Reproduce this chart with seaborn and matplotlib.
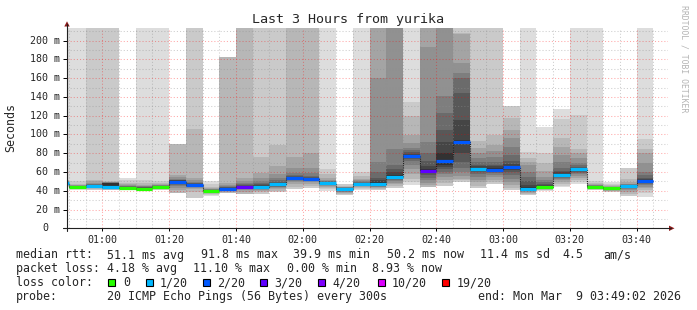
import numpy as np
import pandas as pd
import matplotlib
matplotlib.use("Agg")
import matplotlib.pyplot as plt
import seaborn as sns
from matplotlib.lines import Line2D
from matplotlib.patches import Polygon, Rectangle

# ---------------- data ----------------
times = ["00:45", "00:50", "00:55", "01:00", "01:05", "01:10", "01:15", "01:20", "01:25",
         "01:30", "01:35", "01:40", "01:45", "01:50", "01:55", "02:00", "02:05", "02:10",
         "02:15", "02:20", "02:25", "02:30", "02:35", "02:40", "02:45", "02:50", "02:55",
         "03:00", "03:05", "03:10", "03:15", "03:20", "03:25", "03:30", "03:35", "03:40"]

median_ms = [48.5, 43.6, 45.2, 44.1, 43.2, 42.0, 44.2, 49.4, 46.0, 40.0, 41.8, 43.9,
             43.7, 46.8, 53.1, 52.4, 48.2, 41.9, 47.0, 47.5, 55.0, 76.8, 61.3, 72.0,
             91.8, 63.0, 62.5, 65.1, 42.0, 44.1, 56.9, 62.8, 44.1, 42.6, 44.7, 50.1]

# lost pings (out of 20) per step
loss_pings = [1.0, 0, 1.0, 1.0, 0, 0, 0, 2.0, 1.4, 0, 2.0, 2.2,
              1.0, 1.0, 1.3, 1.5, 0.6, 1.0, 0.5, 1.0, 1.0, 1.2, 2.2, 1.6,
              1.8, 1.0, 1.4, 2.0, 0.4, 0, 0.4, 0.7, 0, 0, 1.0, 1.79]

N = None
# sorted ping rtts: highest ten (p20 .. p11), None = lost, 250 = above the graph
upper_pings = [
    [250, 52, 51, 50.5, 50, 49.8, 49.5, 49.2, 49, 48.8],
    [250, 50, 47.5, 46.5, 46, 45.5, 45, 44.8, 44.5, 44.2],
    [N, 250, 52, 50, 48.5, 47.5, 47, 46.5, 46, 45.8],
    [N, 250, 50.5, 49.8, 49.3, 49, 48.8, 48.5, 48.2, 47.8],
    [54, 51, 48.5, 47, 46, 45.5, 45, 44.5, 44, 43.6],
    [250, 51, 48, 46.5, 45.5, 45, 44.5, 44, 43.3, 42.6],
    [250, 50.5, 48, 47, 46.5, 46, 45.5, 45, 44.8, 44.5],
    [N, N, 90, 57, 54.5, 53, 52, 51.5, 51, 50.5],
    [N, 250, 106, 54, 51, 49.5, 48.5, 48, 47.5, 47],
    [50.5, 47, 43.5, 42.5, 42, 41.5, 41.2, 40.9, 40.6, 40.3],
    [N, N, 182.5, 48.5, 46.5, 45.5, 44.5, 43.5, 43, 42.5],
    [N, N, 250, 54, 50, 48, 47, 46, 45.5, 45],
    [N, 250, 76.5, 58.5, 53.5, 50, 48, 47, 46, 45],
    [N, 250, 89, 66.5, 57.5, 53.3, 51, 49.5, 48.5, 47.5],
    [N, 250, 250, 76.3, 64, 59, 57, 55.5, 54.5, 53.8],
    [N, 250, 250, 80, 64, 58.5, 56, 54.5, 53.5, 53],
    [250, 63.5, 57.5, 53.5, 51.5, 50.5, 50, 49.5, 49, 48.6],
    [N, 47.3, 45.5, 44.5, 44, 43.5, 43, 42.8, 42.5, 42.2],
    [250, 60.5, 56, 53, 51, 50, 49.3, 48.7, 48.2, 47.6],
    [N, 250, 250, 250, 160, 71, 60, 54, 51, 49],
    [N, 250, 250, 250, 250, 84.5, 67.5, 63, 60, 57],
    [250, 134.5, 119.5, 99.5, 90.5, 86, 83, 81, 79.5, 78],
    [N, N, 250, 250, 193.5, 92.5, 80, 72, 66, 63],
    [N, 250, 250, 250, 250, 140.5, 122.5, 105, 92.5, 80],
    [N, 250, 208.5, 207.5, 176, 165.5, 160, 144, 115.5, 94],
    [N, 250, 93, 86, 80, 75, 71, 68, 66, 64.5],
    [N, 250, 99.5, 89, 82.5, 75.5, 71, 68, 66, 64],
    [N, 130.3, 117.5, 104.7, 96, 87, 78, 72, 68.5, 66.8],
    [250, 81, 74.5, 71, 67, 60.5, 55, 50, 46, 43.5],
    [108.3, 80, 69.5, 61, 55, 51.5, 49, 47.5, 46.5, 45.5],
    [127, 116.5, 96, 87, 78, 71, 64, 61, 59.5, 58],
    [250, 120.5, 85, 80, 74.5, 69.5, 67, 65.5, 64.8, 64],
    [250, 50, 48.5, 47.3, 46.5, 46, 45.5, 45.2, 44.9, 44.6],
    [49.7, 47, 45.8, 45, 44.5, 44, 43.7, 43.4, 43.1, 42.8],
    [N, 64, 52.5, 49, 47.5, 46.8, 46.3, 45.8, 45.4, 45],
    [250, 95, 85, 80, 69.5, 60.5, 57, 54, 52.5, 51.5],
]
# lowest ten (p1 .. p10)
lower_pings = [
    [44, 45, 45.5, 46, 46.5, 47, 47.5, 47.8, 48, 48.3],
    [40.5, 41.5, 42, 42.5, 42.8, 43, 43.2, 43.4, 43.5, 43.6],
    [N, 41, 41.8, 42.5, 43, 43.5, 44, 44.4, 44.7, 45],
    [N, 40.5, 41, 41.6, 42.1, 42.5, 42.9, 43.2, 43.5, 43.8],
    [40.5, 41, 41.4, 41.8, 42.1, 42.4, 42.6, 42.8, 43, 43.1],
    [39.8, 40.4, 40.9, 41.2, 41.5, 41.7, 41.8, 41.9, 41.95, 42],
    [40.5, 41, 41.5, 42, 42.5, 43, 43.3, 43.6, 43.9, 44.1],
    [N, N, 38, 41, 43, 45, 46.5, 47.5, 48.5, 49.2],
    [N, 32.7, 39, 41.5, 43, 44, 44.5, 45, 45.5, 45.8],
    [34.5, 35.5, 36.5, 37.5, 38.2, 38.8, 39.2, 39.5, 39.7, 39.9],
    [N, N, 37.5, 38.5, 39.5, 40, 40.5, 41, 41.3, 41.6],
    [N, N, 36.3, 39, 40.5, 41.5, 42.3, 42.8, 43.2, 43.6],
    [N, 36.5, 38.5, 40, 41, 41.8, 42.4, 42.8, 43.2, 43.5],
    [N, 38.3, 40, 41.5, 42.5, 43.5, 44.5, 45.2, 45.8, 46.4],
    [N, 42, 44.5, 47, 49, 50.5, 51.5, 52, 52.5, 52.8],
    [N, 42.5, 45, 47, 49, 50, 50.8, 51.4, 51.8, 52.1],
    [39.5, 41.5, 43, 44.5, 45.5, 46.3, 47, 47.4, 47.7, 48],
    [N, 36, 36.8, 37.5, 38.2, 39, 39.8, 40.5, 41, 41.5],
    [40.8, 42, 43, 44, 44.8, 45.4, 45.9, 46.3, 46.6, 46.8],
    [N, 40.5, 41.5, 42.5, 43.5, 44.5, 45.5, 46.3, 46.8, 47.2],
    [N, 43, 45, 47, 48.5, 50, 51.5, 52.5, 53.5, 54.5],
    [46.5, 49, 53, 58, 63, 68, 71.5, 73.5, 75, 76],
    [N, N, 44, 46, 48.5, 51, 54, 56.5, 58.5, 60],
    [N, 45, 48.5, 51.5, 54.5, 57.5, 60.5, 63, 65, 68],
    [N, 49.5, 51, 53, 56, 60, 64, 71, 80, 90.5],
    [N, 42.5, 45.5, 49, 52, 55, 57.5, 59.5, 61, 62],
    [N, 46.8, 49.5, 52, 54.5, 56.5, 58.5, 60, 61, 61.8],
    [N, 40.8, 43, 46, 49.5, 53, 56.5, 59.5, 62, 64],
    [35.3, 36, 37, 38, 38.8, 39.5, 40.2, 40.8, 41.3, 41.7],
    [39.6, 40.3, 41, 41.6, 42.2, 42.8, 43.2, 43.5, 43.8, 44],
    [43.5, 45.5, 47.5, 49.5, 51, 52.5, 53.5, 54.5, 55.5, 56.2],
    [46.8, 49, 51.5, 54, 56, 57.5, 59, 60.3, 61.3, 62],
    [40.5, 41.2, 41.8, 42.3, 42.8, 43.2, 43.5, 43.7, 43.9, 44],
    [38.3, 39, 39.6, 40.2, 40.8, 41.3, 41.7, 42, 42.2, 42.4],
    [N, 34, 36.5, 39, 41, 42.3, 43.2, 43.8, 44.2, 44.5],
    [33.7, 38, 40.5, 42.5, 44.5, 46, 47, 48, 48.8, 49.5],
]

y_tick_values = [0, 20, 40, 60, 80, 100, 120, 140, 160, 180, 200]
y_tick_labels = ["0", "20 m", "40 m", "60 m", "80 m", "100 m", "120 m", "140 m",
                 "160 m", "180 m", "200 m"]
x_tick_labels = ["01:00", "01:20", "01:40", "02:00", "02:20", "02:40", "03:00", "03:20", "03:40"]

loss_thresholds = [0, 1, 2, 3, 4, 10, 19]
loss_labels = ["0", "1/20", "2/20", "3/20", "4/20", "10/20", "19/20"]
loss_colors = ["#26ff00", "#00b8ff", "#0059ff", "#5e00ff", "#7e00ff", "#dd00ff", "#ff0000"]

# ---------------- setup ----------------
sns.set_style("white")
plt.rcParams["font.family"] = ["DejaVu Sans Mono", "DejaVu Sans"]

W, H = 697, 310
fig = plt.figure(figsize=(W / 100, H / 100), dpi=100)
fig.patch.set_facecolor("white")

AX_L, AX_R, AX_T, AX_B = 67, 668, 28, 228.3
ax = fig.add_axes([AX_L / W, 1 - AX_B / H, (AX_R - AX_L) / W, (AX_B - AX_T) / H])
ax.set_facecolor("white")


def to_min(t):
    h, m = t.split(":")
    return int(h) * 60 + int(m)


starts = np.array([to_min(t) for t in times], dtype=float)
step = 5.0
up = np.array([[np.nan if v is None else v for v in row] for row in upper_pings], dtype=float)
lo = np.array([[np.nan if v is None else v for v in row] for row in lower_pings], dtype=float)
med = np.array(median_ms)

# smoke bands (smokeping style)
for k in range(10):
    g = int(190 / 10 * (10 - (k + 1))) + 50
    col = "#%02x%02x%02x" % (g, g, g)
    top = up[:, k]
    bot = lo[:, k]
    m = ~np.isnan(top) & ~np.isnan(bot)
    ax.bar(starts[m], top[m] - bot[m], bottom=bot[m], width=step, align="edge",
           color=col, linewidth=0, antialiased=False, zorder=1)

# median step connector (dotted)
step_df = pd.DataFrame({"t": np.append(starts, starts[-1] + step),
                        "rtt": np.append(med, med[-1])})
sns.lineplot(data=step_df, x="t", y="rtt", ax=ax, drawstyle="steps-post", estimator=None,
             color="#202020", linewidth=0.8, linestyle=(0, (1, 1)), zorder=3, legend=False)


def loss_color(l):
    if l <= 0:
        return loss_colors[0]
    for th, c in zip(loss_thresholds[1:], loss_colors[1:]):
        if l <= th:
            return c
    return loss_colors[-1]


cols = [loss_color(l) for l in loss_pings]
ax.hlines(med, starts, starts + step, colors=cols, linewidth=2.3, zorder=4)

ax.set_xlim(49.4, 229.4)
ax.set_ylim(0, 213.5)
ax.set_xlabel("")
ax.set_ylabel("")

# grid
xmaj = [to_min(t) for t in x_tick_labels]
ax.set_xticks(xmaj)
ax.set_xticklabels(x_tick_labels, fontsize=7.2)
ax.set_xticks(np.arange(50, 230, 5), minor=True)
ax.set_yticks(y_tick_values)
ax.set_yticklabels([])
ax.set_yticks(np.arange(10, 213, 10), minor=True)
ax.set_axisbelow(False)
ax.grid(which="minor", color="#909090", alpha=0.45, linestyle=(0, (1, 2)), linewidth=0.75)
ax.grid(which="major", color="#ff0000", alpha=0.35, linestyle=(0, (1, 2)), linewidth=0.75)
for s in ax.spines.values():
    s.set_visible(False)
ax.tick_params(axis="x", which="major", length=2, width=0.7, color="black", pad=2.5, direction="out",
               bottom=True)
ax.tick_params(axis="x", which="minor", length=0)
ax.tick_params(axis="y", which="major", length=3, width=0.7, color="black", direction="out", left=True,
               labelleft=False)
ax.tick_params(axis="y", which="minor", length=0)

for v, lab in zip(y_tick_values, y_tick_labels):
    xpx = 60.5 if lab != "0" else 48.0
    ax.text((xpx - AX_L) / (AX_R - AX_L), v, lab, transform=ax.get_yaxis_transform(),
            ha="right", va="center", fontsize=7.2)


def fx(px):
    return px / W


def fy(py):
    return 1 - py / H


# axes lines and arrows
fig.add_artist(Line2D([fx(67), fx(67)], [fy(231), fy(24)], color="#202020", lw=0.8))
fig.add_artist(Line2D([fx(63), fx(671)], [fy(AX_B), fy(AX_B)], color="#202020", lw=0.8))
fig.add_artist(Polygon([[fx(64.3), fy(26.5)], [fx(69.7), fy(26.5)], [fx(67), fy(21.3)]],
                       closed=True, color="#8b1a1a", lw=0))
fig.add_artist(Polygon([[fx(669), fy(AX_B - 2.7)], [fx(669), fy(AX_B + 2.7)], [fx(674.5), fy(AX_B)]],
                       closed=True, color="#8b1a1a", lw=0))

# titles
fig.text(fx(347.5), fy(19.3), "Last 3 Hours from yurika", ha="center", va="center", fontsize=9.6)
fig.text(fx(11), fy(127.5), "Seconds", ha="center", va="center", rotation=90, fontsize=8.4)
fig.text(fx(684), fy(59), "RRDTOOL / TOBI OETIKER", ha="center", va="center", rotation=270,
         fontsize=5.9, color="#b4b4b4")

# legend block
LFS = 8.4
rows = [
    (255, [(16, "median rtt:"), (107, "51.1 ms avg"), (201, "91.8 ms max"), (293, "39.9 ms min"),
           (387, "50.2 ms now"), (480, "11.4 ms sd"), (562, "4.5"), (603, "am/s")]),
    (268.5, [(16, "packet loss:"), (107, "4.18 % avg"), (193, "11.10 % max"), (287, "0.00 % min"),
             (372, "8.93 % now")]),
    (282.5, [(16, "loss color:")]),
    (296.3, [(16, "probe:"), (107, "20 ICMP Echo Pings (56 Bytes) every 300s"),
             (478, "end: Mon Mar  9 03:49:02 2026")]),
]
for ypx, items in rows:
    for xpx, s in items:
        fig.text(fx(xpx), fy(ypx), s, ha="left", va="center", fontsize=LFS)

box_x = [108, 146, 203, 260, 318, 378, 442]
lab_x = [123, 160, 217, 274, 332, 392, 457]
for bx, lx, c, lab in zip(box_x, lab_x, loss_colors, loss_labels):
    fig.add_artist(Rectangle((fx(bx), fy(286)), 7 / W, 7 / H, facecolor=c, edgecolor="black",
                             linewidth=0.8))
    fig.text(fx(lx), fy(282.5), lab, ha="left", va="center", fontsize=LFS)

fig.savefig("out.png", dpi=100, facecolor="white")
